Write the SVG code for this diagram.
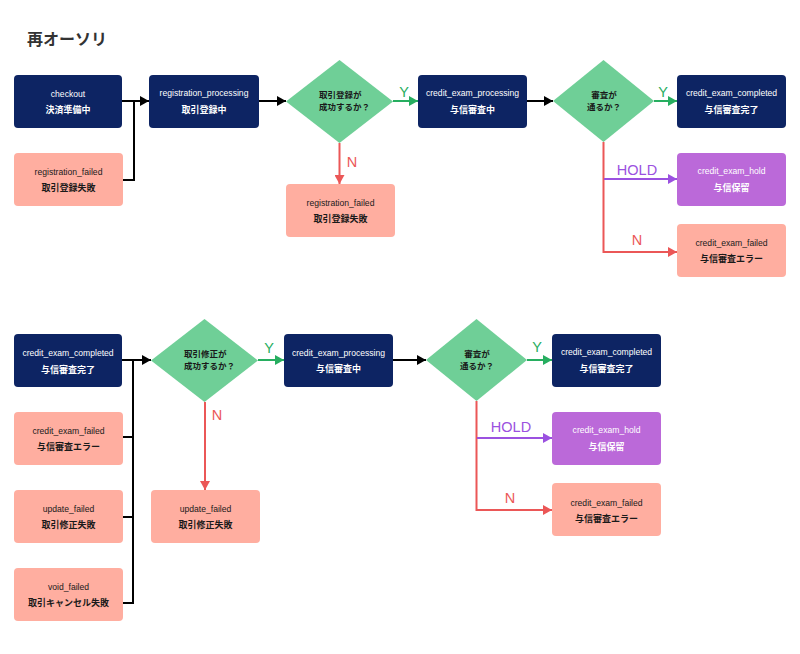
<svg xmlns="http://www.w3.org/2000/svg" width="800" height="654" viewBox="0 0 800 654">
<style>
.title{font-family:"Noto Sans CJK JP","Liberation Sans",sans-serif;font-size:16px;font-weight:bold;fill:#333}
.en{font-family:"Liberation Sans","Noto Sans CJK JP",sans-serif;font-size:8.6px;text-anchor:middle}
.jp{font-family:"Noto Sans CJK JP",sans-serif;font-size:9px;font-weight:bold;text-anchor:middle}
.dq{font-family:"Noto Sans CJK JP",sans-serif;font-size:8.5px;font-weight:bold;fill:#1a1a1a}
.navy rect{fill:#0d2463}
.navy text{fill:#fff}
.pink rect{fill:#ffaea0}
.pink text{fill:#1a1a1a}
.purple rect{fill:#bb69d9}
.purple text{fill:#fff}
.dia polygon{fill:#6fcf97}
.c{fill:none;stroke-width:2}
.k{stroke:#000}
.g{stroke:#27ae60}
.r{stroke:#eb5757}
.p{stroke:#9b51e0}
.lbl{font-family:"Liberation Sans",sans-serif;font-size:14.5px;text-anchor:middle}
</style>
<defs>
<marker id="ak" markerUnits="userSpaceOnUse" markerWidth="9" markerHeight="10" refX="9" refY="5" orient="auto"><path d="M0,0 L9,5 L0,10 z" fill="#000"/></marker>
<marker id="ag" markerUnits="userSpaceOnUse" markerWidth="9" markerHeight="10" refX="9" refY="5" orient="auto"><path d="M0,0 L9,5 L0,10 z" fill="#27ae60"/></marker>
<marker id="ar" markerUnits="userSpaceOnUse" markerWidth="9" markerHeight="10" refX="9" refY="5" orient="auto"><path d="M0,0 L9,5 L0,10 z" fill="#eb5757"/></marker>
<marker id="ap" markerUnits="userSpaceOnUse" markerWidth="9" markerHeight="10" refX="9" refY="5" orient="auto"><path d="M0,0 L9,5 L0,10 z" fill="#9b51e0"/></marker>
</defs>
<rect width="800" height="654" fill="#fff"/>
<text class="title" x="27" y="45">再オーソリ</text>

<g id="connectors">
<path class="c k" d="M122,101 H149" marker-end="url(#ak)"/>
<path class="c k" d="M123,180 H134 V101"/>
<path class="c k" d="M259,101 H286" marker-end="url(#ak)"/>
<path class="c r" d="M339.5,143 V184" marker-end="url(#ar)"/>
<path class="c g" d="M393,101 H418" marker-end="url(#ag)"/>
<path class="c k" d="M527,101 H553" marker-end="url(#ak)"/>
<path class="c g" d="M654,101 H677" marker-end="url(#ag)"/>
<path class="c r" d="M603.5,142 V252 H677" marker-end="url(#ar)"/>
<path class="c p" d="M604,179 H677" marker-end="url(#ap)"/>

<path class="c k" d="M122,360 H151" marker-end="url(#ak)"/>
<path class="c k" d="M133,360 V604"/>
<path class="c k" d="M123,437 H133"/>
<path class="c k" d="M123,517 H133"/>
<path class="c k" d="M123,603 H133"/>
<path class="c r" d="M205,402 V490" marker-end="url(#ar)"/>
<path class="c g" d="M258,360 H284" marker-end="url(#ag)"/>
<path class="c k" d="M393,360 H426" marker-end="url(#ak)"/>
<path class="c g" d="M527,360 H552" marker-end="url(#ag)"/>
<path class="c r" d="M476.5,401 V510 H552" marker-end="url(#ar)"/>
<path class="c p" d="M477,438 H552" marker-end="url(#ap)"/>

<text class="lbl" x="404" y="97" fill="#27ae60">Y</text>
<text class="lbl" x="352" y="167" fill="#eb5757">N</text>
<text class="lbl" x="663" y="97" fill="#27ae60">Y</text>
<text class="lbl" x="637" y="175" fill="#9b51e0">HOLD</text>
<text class="lbl" x="637" y="245" fill="#eb5757">N</text>
<text class="lbl" x="269" y="353" fill="#27ae60">Y</text>
<text class="lbl" x="217" y="420" fill="#eb5757">N</text>
<text class="lbl" x="537" y="352" fill="#27ae60">Y</text>
<text class="lbl" x="511" y="432" fill="#9b51e0">HOLD</text>
<text class="lbl" x="510" y="503" fill="#eb5757">N</text>
</g>

<g id="checkout" class="navy"><rect x="14" y="75" width="108" height="53" rx="4"/><text class="en" x="68" y="97">checkout</text><text class="jp" x="68" y="113">決済準備中</text></g>
<g id="registration_failed_1" class="pink"><rect x="14" y="153" width="109" height="53" rx="4"/><text class="en" x="68.5" y="175">registration_failed</text><text class="jp" x="68.5" y="191">取引登録失敗</text></g>
<g id="registration_processing" class="navy"><rect x="149" y="75" width="110" height="53" rx="4"/><text class="en" x="204" y="96">registration_processing</text><text class="jp" x="204" y="113">取引登録中</text></g>
<g id="decision_registration" class="dia"><polygon points="339.5,60 393,101.5 339.5,143 286,101.5"/><text class="dq" x="319" y="98">取引登録が</text><text class="dq" x="319" y="110">成功するか？</text></g>
<g id="registration_failed_2" class="pink"><rect x="286" y="184" width="109" height="53" rx="4"/><text class="en" x="340.5" y="206">registration_failed</text><text class="jp" x="340.5" y="222">取引登録失敗</text></g>
<g id="credit_exam_processing_1" class="navy"><rect x="418" y="75" width="109" height="53" rx="4"/><text class="en" x="472.5" y="96">credit_exam_processing</text><text class="jp" x="472.5" y="113">与信審査中</text></g>
<g id="decision_exam_1" class="dia"><polygon points="603.5,60 654,101 603.5,142 553,101"/><text class="dq" x="604" y="98" text-anchor="middle">審査が</text><text class="dq" x="604" y="110" text-anchor="middle">通るか？</text></g>
<g id="credit_exam_completed_1" class="navy"><rect x="677" y="75" width="109" height="53" rx="4"/><text class="en" x="731.5" y="96">credit_exam_completed</text><text class="jp" x="731.5" y="113">与信審査完了</text></g>
<g id="credit_exam_hold_1" class="purple"><rect x="677" y="153" width="109" height="53" rx="4"/><text class="en" x="731.5" y="174">credit_exam_hold</text><text class="jp" x="731.5" y="191">与信保留</text></g>
<g id="credit_exam_failed_1" class="pink"><rect x="677" y="224" width="109" height="53" rx="4"/><text class="en" x="731.5" y="246">credit_exam_failed</text><text class="jp" x="731.5" y="262">与信審査エラー</text></g>

<g id="credit_exam_completed_2" class="navy"><rect x="14" y="334" width="108" height="53" rx="4"/><text class="en" x="68" y="356">credit_exam_completed</text><text class="jp" x="68" y="373">与信審査完了</text></g>
<g id="credit_exam_failed_2" class="pink"><rect x="14" y="412" width="109" height="53" rx="4"/><text class="en" x="68.5" y="434">credit_exam_failed</text><text class="jp" x="68.5" y="450">与信審査エラー</text></g>
<g id="update_failed_1" class="pink"><rect x="14" y="490" width="109" height="53" rx="4"/><text class="en" x="68.5" y="512">update_failed</text><text class="jp" x="68.5" y="528">取引修正失敗</text></g>
<g id="void_failed" class="pink"><rect x="14" y="568" width="109" height="53" rx="4"/><text class="en" x="68.5" y="590">void_failed</text><text class="jp" x="68.5" y="606">取引キャンセル失敗</text></g>
<g id="decision_update" class="dia"><polygon points="204.5,319 258,360.5 204.5,402 151,360.5"/><text class="dq" x="184" y="357">取引修正が</text><text class="dq" x="184" y="369">成功するか？</text></g>
<g id="update_failed_2" class="pink"><rect x="151" y="490" width="109" height="53" rx="4"/><text class="en" x="205.5" y="512">update_failed</text><text class="jp" x="205.5" y="528">取引修正失敗</text></g>
<g id="credit_exam_processing_2" class="navy"><rect x="284" y="334" width="109" height="53" rx="4"/><text class="en" x="338.5" y="356">credit_exam_processing</text><text class="jp" x="338.5" y="372">与信審査中</text></g>
<g id="decision_exam_2" class="dia"><polygon points="476.5,319 527,360 476.5,401 426,360"/><text class="dq" x="477" y="357" text-anchor="middle">審査が</text><text class="dq" x="477" y="369" text-anchor="middle">通るか？</text></g>
<g id="credit_exam_completed_3" class="navy"><rect x="552" y="334" width="109" height="53" rx="4"/><text class="en" x="606.5" y="355">credit_exam_completed</text><text class="jp" x="606.5" y="372">与信審査完了</text></g>
<g id="credit_exam_hold_2" class="purple"><rect x="552" y="412" width="109" height="53" rx="4"/><text class="en" x="606.5" y="433">credit_exam_hold</text><text class="jp" x="606.5" y="450">与信保留</text></g>
<g id="credit_exam_failed_3" class="pink"><rect x="552" y="483" width="109" height="53" rx="4"/><text class="en" x="606.5" y="506">credit_exam_failed</text><text class="jp" x="606.5" y="522">与信審査エラー</text></g>
</svg>
